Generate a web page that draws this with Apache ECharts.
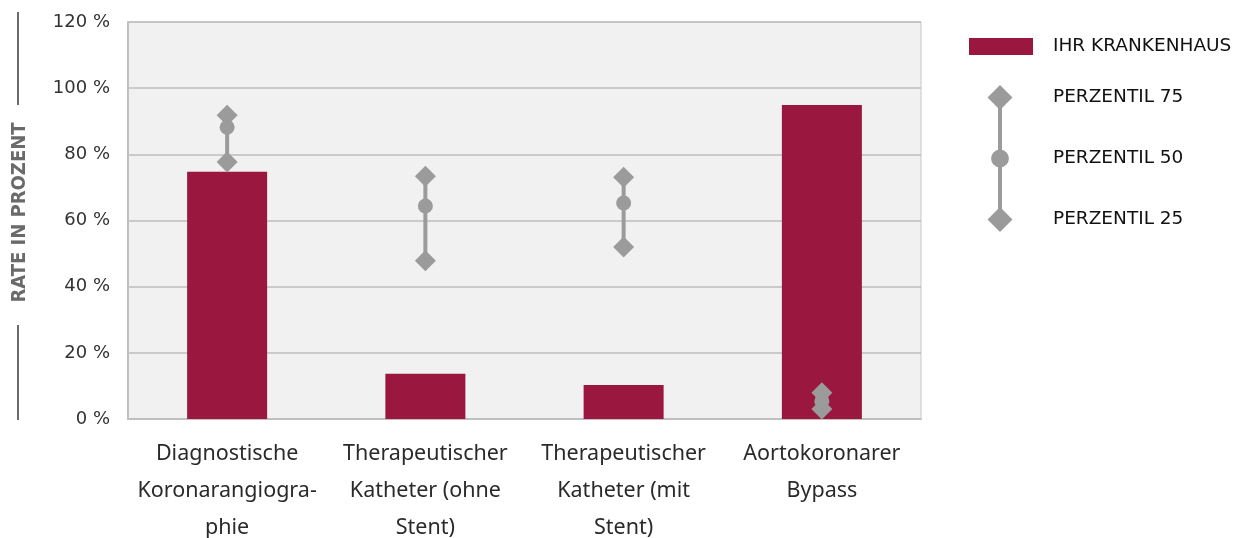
<!DOCTYPE html>
<html>
<head>
<meta charset="utf-8">
<script src="https://cdn.jsdelivr.net/npm/echarts@6/dist/echarts.min.js"></script>
<style>
  html, body { margin: 0; padding: 0; background: #fff; }
  #chart { width: 1240px; height: 538px; }
</style>
</head>
<body>
<div id="chart"></div>
<script>
var categories = [
	'Diagnostische\nKoronarangiogra-\nphie',
	'Therapeutischer\nKatheter (ohne\nStent)',
	'Therapeutischer\nKatheter (mit\nStent)',
	'Aortokoronarer\nBypass'
];
var hospital = [74.7, 13.7, 10.3, 94.9];
var p75 = [91.8, 73.4, 73.1, 7.9];
var p50 = [88.2, 64.4, 65.3, 5.4];
var p25 = [77.7, 47.8, 52.0, 3.0];
var yTicks = [0, 20, 40, 60, 80, 100, 120];

var barColor = '#9a1740';
var grey = '#9b9b9b';

// legend icons on a 21x21 box (circle is smaller than the diamonds)
var diamondIcon = 'path://M10.5,0 L21,10.5 L10.5,21 L0,10.5 Z';
var circleIcon = 'path://M0,0 M21,21 M3,10.5 A7.5,7.5 0 1,1 18,10.5 A7.5,7.5 0 1,1 3,10.5 Z';

var chart = echarts.init(document.getElementById('chart'));

// range line for each category (p25 -> p75)
var rangeData = categories.map(function (c, i) {
	return [i, p25[i], p75[i]];
});

var option = {
	animation: false,
	textStyle: { fontFamily: 'DejaVu Sans' },
	grid: {
		left: 128,
		top: 22,
		width: 793,
		height: 397,
		outerBoundsMode: 'none',
		show: true,
		backgroundColor: '#f1f1f1',
		borderColor: '#c6c6c6',
		borderWidth: 1
	},
	legend: [
		{
			data: [{ name: 'IHR KRANKENHAUS', icon: 'rect' }],
			left: 969,
			top: 37,
			padding: 0,
			itemWidth: 64,
			itemHeight: 17,
			textStyle: { fontSize: 18.5, color: '#111', padding: [0, 0, 0, 15] }
		},
		{
			data: [
				{ name: 'PERZENTIL 75', icon: diamondIcon },
				{ name: 'PERZENTIL 50', icon: circleIcon },
				{ name: 'PERZENTIL 25', icon: diamondIcon }
			],
			orient: 'vertical',
			left: 987.5,
			top: 85,
			padding: 0,
			itemWidth: 25,
			itemHeight: 25,
			itemGap: 36,
			textStyle: { fontSize: 18.5, color: '#111', padding: [0, 0, 0, 35.5] }
		}
	],
	xAxis: {
		type: 'category',
		data: categories,
		axisLine: { lineStyle: { color: '#c0c0c0', width: 2 } },
		axisTick: { length: 14, lineStyle: { color: '#c0c0c0', width: 2 } },
		axisLabel: {
			interval: 0,
			fontFamily: 'Noto Sans',
			fontSize: 21.5,
			lineHeight: 37,
			color: '#2a2a2a',
			margin: 16
		}
	},
	yAxis: {
		type: 'value',
		min: yTicks[0],
		max: yTicks[yTicks.length - 1],
		interval: 20,
		name: 'RATE IN PROZENT',
		nameLocation: 'middle',
		nameRotate: 90,
		nameGap: 98,
		nameTextStyle: {
			fontFamily: 'Liberation Sans Narrow, DejaVu Sans Condensed, Roboto',
			fontWeight: 'bold',
			fontSize: 20,
			color: '#6a6a6a',
			padding: [0, 0, 0, 16]
		},
		axisLine: { show: true, lineStyle: { color: '#c0c0c0', width: 2 } },
		axisTick: { show: false },
		splitLine: { lineStyle: { color: '#bdbdbd', width: 1.5 } },
		axisLabel: {
			formatter: '{value} %',
			fontSize: 18,
			color: '#333',
			margin: 18
		}
	},
	graphic: [
		{ type: 'line', shape: { x1: 18, y1: 12, x2: 18, y2: 105 }, style: { stroke: '#6a6a6a', lineWidth: 2 } },
		{ type: 'line', shape: { x1: 18, y1: 325, x2: 18, y2: 420 }, style: { stroke: '#6a6a6a', lineWidth: 2 } },
		{ type: 'line', shape: { x1: 1000, y1: 97, x2: 1000, y2: 219 }, style: { stroke: grey, lineWidth: 4 }, z: 0 }
	],
	series: [
		{
			name: 'IHR KRANKENHAUS',
			type: 'bar',
			data: hospital,
			barWidth: 80,
			itemStyle: { color: barColor }
		},
		{
			type: 'custom',
			data: rangeData,
			z: 3,
			renderItem: function (params, api) {
				var lo = api.coord([api.value(0), api.value(1)]);
				var hi = api.coord([api.value(0), api.value(2)]);
				return {
					type: 'line',
					shape: { x1: lo[0], y1: lo[1], x2: hi[0], y2: hi[1] },
					style: { stroke: grey, lineWidth: 4 }
				};
			}
		},
		{
			name: 'PERZENTIL 75',
			type: 'scatter',
			data: p75,
			symbol: 'diamond',
			symbolSize: 21,
			z: 4,
			itemStyle: { color: grey, opacity: 1 }
		},
		{
			name: 'PERZENTIL 50',
			type: 'scatter',
			data: p50,
			symbol: 'circle',
			symbolSize: 15,
			z: 4,
			itemStyle: { color: grey, opacity: 1 }
		},
		{
			name: 'PERZENTIL 25',
			type: 'scatter',
			data: p25,
			symbol: 'diamond',
			symbolSize: 21,
			z: 4,
			itemStyle: { color: grey, opacity: 1 }
		}
	]
};

chart.setOption(option);
</script>
</body>
</html>
